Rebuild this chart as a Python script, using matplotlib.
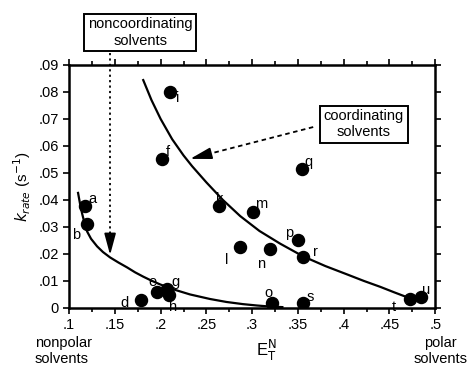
import matplotlib
matplotlib.use("Agg")
import matplotlib.pyplot as plt
from matplotlib.ticker import MultipleLocator, FuncFormatter

plt.rcParams['font.family'] = ['Liberation Sans', 'DejaVu Sans']

# solvent points
labels = ['a', 'b', 'd', 'e', 'g', 'h', 'i', 'f', 'k', 'l', 'm', 'n',
          'o', 'p', 'q', 'r', 's', 't', 'u']
et = [0.1175, 0.1197, 0.179, 0.196, 0.207, 0.209, 0.210, 0.202, 0.264, 0.287,
      0.301, 0.319, 0.322, 0.350, 0.355, 0.356, 0.356, 0.472, 0.484]
krate = [0.0376, 0.031, 0.003, 0.006, 0.007, 0.0048, 0.080, 0.055, 0.0376, 0.0225,
         0.0354, 0.0218, 0.0018, 0.025, 0.0513, 0.0188, 0.0018, 0.0033, 0.004]
# label offsets in points
offs = [(5, 5), (-8, -8), (-12, -2), (-3, 7), (6, 5), (3, -9), (6, -4), (4, 5),
        (0, 5), (-10, -9), (6, 6), (-6, -11), (-3, 7), (-6, 5), (4, 5), (9, 4),
        (5, 4), (-11, -6), (4, 5)]

# fitted curves
coord_x = [0.181, 0.190, 0.200, 0.2126, 0.225, 0.2344, 0.250, 0.268, 0.287, 0.308,
           0.3306, 0.3557, 0.380, 0.4038, 0.422, 0.440, 0.455, 0.4705]
coord_y = [0.0844, 0.0770, 0.0700, 0.0625, 0.0565, 0.0525, 0.0465, 0.0400, 0.0340,
           0.0285, 0.0238, 0.0191, 0.0155, 0.0124, 0.0100, 0.0078, 0.0058, 0.0038]
nonc_x = [0.1098, 0.112, 0.1142, 0.117, 0.1197, 0.124, 0.1306, 0.137, 0.1448, 0.154,
          0.1634, 0.172, 0.1809, 0.190, 0.1995, 0.2137, 0.232, 0.254, 0.272, 0.290,
          0.305, 0.3197, 0.333]
nonc_y = [0.0426, 0.0385, 0.0350, 0.0312, 0.0283, 0.0256, 0.0228, 0.0207, 0.0187,
          0.0168, 0.0150, 0.0132, 0.0116, 0.0101, 0.0087, 0.0069, 0.0050, 0.0033,
          0.0022, 0.0014, 0.0009, 0.0005, 0.0003]

fig = plt.figure(figsize=(4.7, 3.67), dpi=100)
ax = fig.add_axes([0.147, 0.161, 0.779, 0.662])

ax.plot(coord_x, coord_y, color='black', lw=1.6)
ax.plot(nonc_x, nonc_y, color='black', lw=1.6)
ax.scatter(et, krate, s=75, color='black', zorder=3)
for lab, x, y, o in zip(labels, et, krate, offs):
    ax.annotate(lab, (x, y), xytext=o, textcoords='offset points',
                ha='center', va='center', fontsize=10.5)

ax.set_xlim(0.1, 0.5)
ax.set_ylim(0, 0.09)
ax.xaxis.set_major_locator(MultipleLocator(0.05))
ax.xaxis.set_minor_locator(MultipleLocator(0.025))
ax.yaxis.set_major_locator(MultipleLocator(0.01))
fmt = FuncFormatter(lambda v, p: '0' if abs(v) < 1e-9 else ('%g' % round(v, 3)).lstrip('0'))
ax.xaxis.set_major_formatter(fmt)
ax.yaxis.set_major_formatter(fmt)
ax.tick_params(which='both', direction='out', top=True, right=True,
               labelsize=10.5, width=1.2)
ax.tick_params(which='major', length=4)
ax.tick_params(which='minor', length=3)
for sp in ax.spines.values():
    sp.set_linewidth(1.8)

ax.set_ylabel(r'$k_{rate}$ (s$^{-1}$)', fontsize=11)
ax.set_xlabel(r'E$_\mathrm{T}^\mathrm{N}$', fontsize=12, x=0.54)

fig.text(0.074, 0.044, 'nonpolar\nsolvents', fontsize=10.5, va='center', ha='left')
fig.text(0.937, 0.044, 'polar\nsolvents', fontsize=10.5, va='center', ha='center')

# boxes and arrows: dashed shaft + solid head
box = dict(boxstyle='square,pad=0.25', fc='white', ec='black', lw=1.4)
head = dict(arrowstyle='-|>,head_length=1.3,head_width=0.35', color='black',
            lw=1.3, shrinkA=0, shrinkB=0)

ax.text(0.1776, 0.102, 'noncoordinating\nsolvents', ha='center', va='center',
        fontsize=10.5, bbox=box, clip_on=False)
ax.plot([0.1448, 0.1448], [0.0946, 0.026], color='black', lw=1.3,
        linestyle=(0, (1.2, 1.8)), clip_on=False)
ax.annotate('', xy=(0.1448, 0.0196), xytext=(0.1448, 0.028), arrowprops=head)

ax.text(0.4219, 0.068, 'coordinating\nsolvents', ha='center', va='center',
        fontsize=10.5, bbox=box)
ax.plot([0.3667, 0.250], [0.067, 0.0568], color='black', lw=1.3,
        linestyle=(0, (2.5, 2)))
ax.annotate('', xy=(0.2322, 0.0552), xytext=(0.2534, 0.0571), arrowprops=head)

fig.savefig('out.png', dpi=100)
